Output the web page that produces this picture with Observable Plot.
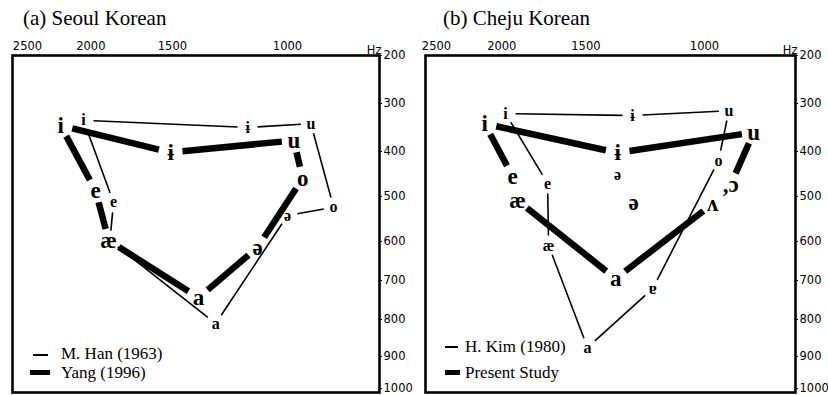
<!DOCTYPE html>
<html><head><meta charset="utf-8">
<script src="https://cdn.jsdelivr.net/npm/d3@7"></script>
<script src="https://cdn.jsdelivr.net/npm/@observablehq/plot@0.6"></script>
<style>
body{margin:0;background:#fff;}
#fig{position:relative;width:828px;height:395px;overflow:hidden;background:#fff;}
.panel{position:absolute;top:0;height:395px;}
.title{position:absolute;top:7px;font-family:"Liberation Serif",serif;font-size:21px;line-height:22px;white-space:nowrap;color:#000;}
.chart{position:absolute;top:26px;left:0;}
.sw{position:absolute;background:#000;}
.lt{position:absolute;font-family:"Liberation Serif",serif;font-size:17px;line-height:16px;white-space:nowrap;color:#000;}
</style></head>
<body>
<div id="fig">
  <div class="panel" id="pa" style="left:0;width:413px;">
    <div class="title" style="left:23px;">(a) Seoul Korean</div>
    <div class="chart" id="ca"></div>
    <div class="sw" style="left:33px;top:354px;width:15px;height:1.6px;"></div>
    <div class="lt" style="left:61px;top:346px;">M. Han (1963)</div>
    <div class="sw" style="left:30px;top:370px;width:20px;height:5px;"></div>
    <div class="lt" style="left:61px;top:365px;">Yang (1996)</div>
  </div>
  <div class="panel" id="pb" style="left:413px;width:415px;">
    <div class="title" style="left:30px;">(b) Cheju Korean</div>
    <div class="chart" id="cb"></div>
    <div class="sw" style="left:32px;top:346px;width:13px;height:1.6px;"></div>
    <div class="lt" style="left:52px;top:339px;">H. Kim (1980)</div>
    <div class="sw" style="left:32px;top:370px;width:15px;height:5px;"></div>
    <div class="lt" style="left:52px;top:365px;">Present Study</div>
  </div>
</div>
<script>
// Axis tick values
const xTicks = [2500, 2000, 1500, 1000];   // F2 (Hz)
const yTicks = [200, 300, 400, 500, 600, 700, 800, 900, 1000]; // F1 (Hz)

// (a) Seoul — M. Han (1963)
const hanVowels = ["i", "e", "æ", "a", "ə", "o", "u", "ɨ"];
const hanF2 = [2052, 1846, 1870, 1288, 1000, 850, 921, 1151];
const hanF1 = [335, 513, 598, 811, 542, 524, 342, 350];
const hanLabels = ["i", "e", "", "a", "ə", "o", "u", "ɨ"];
const hanEdges = [["i","e"],["e","æ"],["æ","a"],["a","ə"],["ə","o"],["o","u"],["u","ɨ"],["ɨ","i"]];

// (a) Seoul — Yang (1996)
const yangVowels = ["i", "e", "æ", "a", "ə", "o", "u", "ɨ"];
const yangF2 = [2225, 1967, 1878, 1368, 1111, 948, 978, 1510];
const yangF1 = [346, 487, 598, 744, 615, 460, 377, 402];
const yangLabels = ["i", "e", "æ", "a", "ə", "o", "u", "ɨ"];
const yangEdges = [["i","e"],["e","æ"],["æ","a"],["a","ə"],["ə","o"],["o","u"],["u","ɨ"],["ɨ","i"]];

// (b) Cheju — H. Kim (1980)
const kimVowels = ["i", "e", "æ", "a", "ɐ", "o", "u", "ɨ", "ə"];
const kimF2 = [1974, 1710, 1704, 1492, 1194, 953, 920, 1279, 1346];
const kimF1 = [321, 471, 610, 876, 721, 420, 315, 325, 452];
const kimLabels = ["i", "e", "æ", "a", "ɐ", "o", "u", "ɨ", "ə"];
const kimEdges = [["i","e"],["e","æ"],["æ","a"],["a","ɐ"],["ɐ","o"],["o","u"],["u","ɨ"],["ɨ","i"]];

// (b) Cheju — Present Study
const presVowels = ["i", "e", "æ", "a", "ʌ", "ɔ", "u", "ɨ", "ə"];
const presF2 = [2121, 1927, 1895, 1355, 972, 914, 845, 1346, 1274];
const presF1 = [342, 455, 509, 695, 516, 473, 360, 403, 513];
const presLabels = ["i", "e", "æ", "a", "ʌ", ",ɔ", "u", "ɨ", "ə"];
const presEdges = [["i","e"],["æ","a"],["a","ʌ"],["ɔ","u"],["u","ɨ"],["ɨ","i"]];

function edgesOf(names, f2, f1, edges) {
  const idx = new Map(names.map((n, i) => [n, i]));
  return edges.map(([a, b]) => ({x1: f2[idx.get(a)], y1: f1[idx.get(a)], x2: f2[idx.get(b)], y2: f1[idx.get(b)]}));
}
function pointsOf(names, f2, f1, labels) {
  return names.map((n, i) => ({f2: f2[i], f1: f1[i], label: labels[i]}));
}

const serif = "Liberation Serif, Times New Roman, serif";

function panel({width, marginLeft, marginRight, xRange, thinE, thickE, thinP, thickP}) {
  return Plot.plot({
    width, height: 369,
    marginTop: 29, marginBottom: 3, marginLeft, marginRight,
    style: {fontFamily: "DejaVu Sans, sans-serif", fontSize: "11.5px", background: "transparent", color: "black", overflow: "visible"},
    x: {type: "log", domain: [2500, 1000], range: xRange, axis: "top", ticks: xTicks, tickFormat: d => String(d), tickSize: 2, tickPadding: 4, label: null},
    y: {type: "linear", domain: yTicks, range: [29, 77, 125, 170, 215, 254, 293, 330, 362], axis: "right", ticks: yTicks, tickFormat: d => String(d), tickSize: 2, tickPadding: 2, label: null},
    marks: [
      Plot.frame({stroke: "black", strokeWidth: 2.6}),
      Plot.arrow(thinE, {x1: "x1", y1: "y1", x2: "x2", y2: "y2", stroke: "black", strokeWidth: 1.6, headLength: 0, inset: 10, strokeLinecap: "butt"}),
      Plot.arrow(thickE, {x1: "x1", y1: "y1", x2: "x2", y2: "y2", stroke: "black", strokeWidth: 6.5, headLength: 0, inset: 12, strokeLinecap: "butt"}),
      Plot.text(thinP, {x: "f2", y: "f1", text: "label", fontFamily: serif, fontWeight: "bold", fontSize: 16, fill: "black"}),
      Plot.text(thickP, {x: "f2", y: "f1", text: "label", fontFamily: serif, fontWeight: "bold", fontSize: 23, fill: "black"}),
      Plot.text(["Hz"], {frameAnchor: "top-right", dy: -10, dx: 2, textAnchor: "end", fill: "black"})
    ]
  });
}

document.getElementById("ca").append(panel({
  width: 413, marginLeft: 12, marginRight: 34, xRange: [27, 287],
  thinE: edgesOf(hanVowels, hanF2, hanF1, hanEdges),
  thickE: edgesOf(yangVowels, yangF2, yangF1, yangEdges),
  thinP: pointsOf(hanVowels, hanF2, hanF1, hanLabels),
  thickP: pointsOf(yangVowels, yangF2, yangF1, yangLabels)
}));
document.getElementById("cb").append(panel({
  width: 415, marginLeft: 12, marginRight: 33, xRange: [23, 291],
  thinE: edgesOf(kimVowels, kimF2, kimF1, kimEdges),
  thickE: edgesOf(presVowels, presF2, presF1, presEdges),
  thinP: pointsOf(kimVowels, kimF2, kimF1, kimLabels),
  thickP: pointsOf(presVowels, presF2, presF1, presLabels)
}));
</script>
</body></html>
